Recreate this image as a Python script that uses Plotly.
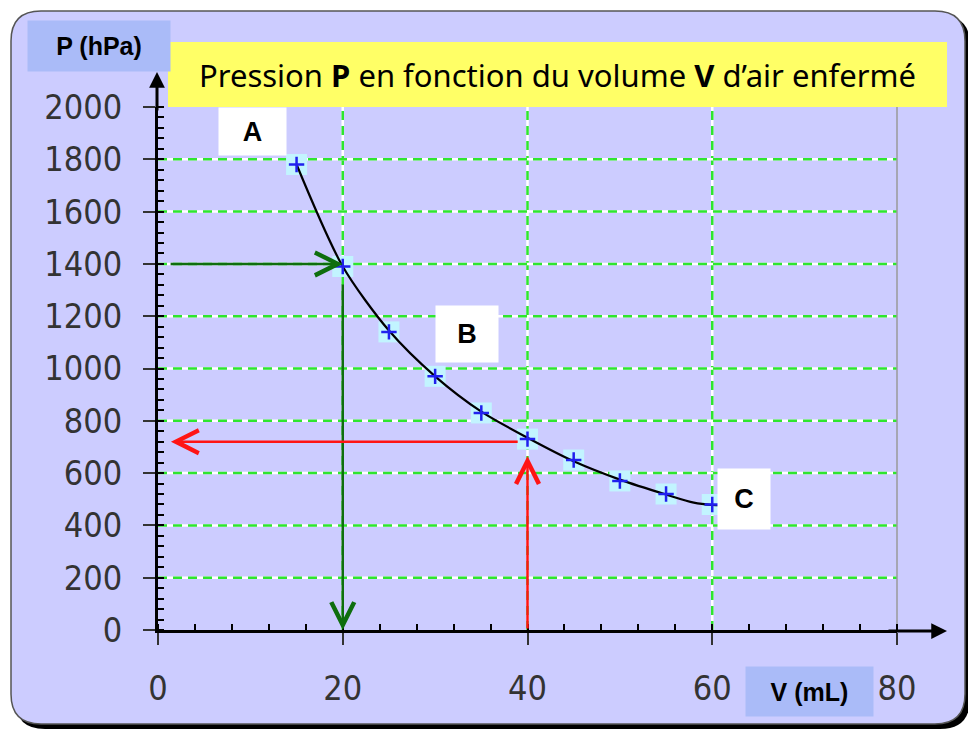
import plotly.graph_objects as go

# ---------------- data ----------------
V = [15, 20, 25, 30, 35, 40, 45, 50, 55, 60]
P = [1780, 1390, 1140, 970, 830, 730, 650, 570, 520, 480]
curve_V = [15, 20, 25, 30, 35, 40, 45, 50, 55, 58, 60, 61]
curve_P = [1780, 1390, 1145, 970, 835, 735, 645, 575, 518, 487, 478, 477]
x_ticks = [0, 20, 40, 60, 80]
y_ticks = [0, 200, 400, 600, 800, 1000, 1200, 1400, 1600, 1800, 2000]
x_grid = [20, 40, 60]
y_grid = [200, 400, 600, 800, 1000, 1200, 1400, 1600, 1800]
point_labels = ["A", "B", "C"]
label_V = [10.2, 33.4, 63.4]
label_P = [1906, 1132, 501]
green_V, green_P, green_start_V, green_stop_P = 20, 1400, 1.2, 1327
red_V, red_P, red_end_V, red_stop_P = 40, 720, 1.4, 665
title_text = "Pression <b>P</b> en fonction du volume <b>V</b> d’air enfermé"
y_title = "<b>P (hPa)</b>"
x_title = "<b>V (mL)</b>"

# ---------------- geometry helpers (page pixel -> paper) ----------------
OFF = 8                       # default body margin of the html page
W, H = 976 - OFF, 729 - OFF   # figure size
L, R, T, B = 158, 897, 107, 630   # plot area in page pixels


def px(x):
    return (x - L) / (R - L)


def py(y):
    return (B - y) / (B - T)


def rrect(x0, y0, x1, y1, r):
    pts = [
        ("M", [(x0 + r, y0)]), ("L", [(x1 - r, y0)]), ("Q", [(x1, y0), (x1, y0 + r)]),
        ("L", [(x1, y1 - r)]), ("Q", [(x1, y1), (x1 - r, y1)]),
        ("L", [(x0 + r, y1)]), ("Q", [(x0, y1), (x0, y1 - r)]),
        ("L", [(x0, y0 + r)]), ("Q", [(x0, y0), (x0 + r, y0)]),
    ]
    s = ""
    for cmd, pp in pts:
        s += cmd + " " + " ".join(f"{px(a):.5f},{py(b):.5f}" for a, b in pp) + " "
    return s + "Z"


GRID_GREEN = "#2EE62E"
DARK_GREEN = "#0E6E0E"
RED = "#FF1414"
TICK_FONT = dict(family="DejaVu Sans Condensed, Liberation Sans Narrow, DejaVu Sans", size=34, color="#333333")
LABEL_FONT = dict(family="Liberation Sans, Arial", size=25, color="black")

fig = go.Figure()

# markers background squares
fig.add_trace(go.Scatter(x=V, y=P, mode="markers",
                         marker=dict(symbol="square", size=21, color="#C2F4FF"),
                         hoverinfo="skip", showlegend=False))
# smooth curve
fig.add_trace(go.Scatter(x=curve_V, y=curve_P, mode="lines",
                         line=dict(color="black", width=2.2, shape="spline", smoothing=0.8),
                         hoverinfo="skip", showlegend=False))
# blue crosses
fig.add_trace(go.Scatter(x=V, y=P, mode="markers",
                         marker=dict(symbol="cross-thin", size=11,
                                     line=dict(color="#2020EE", width=2.5)),
                         showlegend=False))

shapes = []
# black shadow and lavender panel
shapes.append(dict(type="path", xref="paper", yref="paper", path=rrect(15, 15, 970, 729, 30),
                   fillcolor="black", line=dict(width=0), layer="below"))
shapes.append(dict(type="path", xref="paper", yref="paper", path=rrect(11, 11, 965, 724, 30),
                   fillcolor="#CCCCFF", line=dict(color="#555555", width=1.5), layer="below"))
# grid: white base + green dashes
for v in x_grid:
    shapes.append(dict(type="line", xref="x", yref="paper", x0=v, x1=v, y0=0, y1=1,
                       line=dict(color="white", width=2.5), layer="between"))
    shapes.append(dict(type="line", xref="x", yref="paper", x0=v, x1=v, y0=0, y1=1,
                       line=dict(color=GRID_GREEN, width=2.5, dash="9px,6px"), layer="between"))
for p in y_grid:
    shapes.append(dict(type="line", xref="paper", yref="y", x0=0, x1=1, y0=p, y1=p,
                       line=dict(color="white", width=2.5), layer="between"))
    shapes.append(dict(type="line", xref="paper", yref="y", x0=0, x1=1, y0=p, y1=p,
                       line=dict(color=GRID_GREEN, width=2.5, dash="9px,6px"), layer="between"))
# right edge of plot
shapes.append(dict(type="line", xref="paper", yref="paper", x0=1, x1=1, y0=0, y1=1,
                   line=dict(color="#9A9A9A", width=1.5), layer="between"))

annotations = []
# title box
annotations.append(dict(xref="paper", yref="paper", x=px(557.5), y=py(74.5), text=title_text,
                        xanchor="center", yanchor="middle",
                        showarrow=False, width=779, height=65, bgcolor="#FFFF66",
                        borderpad=0, borderwidth=0,
                        font=dict(family="Noto Sans, DejaVu Sans", size=31, color="black")))
# axis title boxes
annotations.append(dict(xref="paper", yref="paper", x=px(99), y=py(46), text=y_title,
                        xanchor="center", yanchor="middle",
                        showarrow=False, width=142, height=50, bgcolor="#AABBF8",
                        borderpad=0, font=LABEL_FONT))
annotations.append(dict(xref="paper", yref="paper", x=px(809.5), y=py(691.5), text=x_title,
                        xanchor="center", yanchor="middle",
                        showarrow=False, width=127, height=49, bgcolor="#AABBF8",
                        borderpad=0, font=LABEL_FONT))
# point labels
box_sizes = [(67, 47), (62, 56), (52, 60)]
for lab, lv, lp, (bw, bh) in zip(point_labels, label_V, label_P, box_sizes):
    annotations.append(dict(xref="x", yref="y", x=lv, y=lp, text=f"<b>{lab}</b>",
                            xanchor="center", yanchor="middle",
                            showarrow=False, width=bw, height=bh, bgcolor="white",
                            borderpad=0,
                            font=dict(family="Liberation Sans, Arial", size=27, color="black")))
# axis arrows
annotations.append(dict(xref="paper", yref="paper", x=px(157), y=py(72), ax=0, ay=40,
                        text="", showarrow=True, arrowhead=2, arrowsize=1.05, arrowwidth=3,
                        arrowcolor="black", standoff=0))
annotations.append(dict(xref="paper", yref="paper", x=px(947), y=py(631), ax=-60, ay=0,
                        text="", showarrow=True, arrowhead=2, arrowsize=1.05, arrowwidth=3,
                        arrowcolor="black", standoff=0))
# reading arrows (green)
annotations.append(dict(xref="x", yref="y", axref="x", ayref="y", x=green_V, y=green_P,
                        ax=green_start_V, ay=green_P, text="", showarrow=True, arrowhead=5,
                        arrowsize=1.8, arrowwidth=2.5, arrowcolor=DARK_GREEN, standoff=0))
annotations.append(dict(xref="x", yref="y", axref="x", ayref="y", x=green_V, y=0,
                        ax=green_V, ay=green_stop_P, text="", showarrow=True, arrowhead=5,
                        arrowsize=1.8, arrowwidth=2.5, arrowcolor=DARK_GREEN, standoff=0))
# reading arrows (red)
annotations.append(dict(xref="x", yref="y", axref="x", ayref="y", x=red_end_V, y=red_P,
                        ax=red_V - 0.9, ay=red_P, text="", showarrow=True, arrowhead=5,
                        arrowsize=1.8, arrowwidth=2.5, arrowcolor=RED, standoff=0))
annotations.append(dict(xref="x", yref="y", axref="x", ayref="y", x=red_V, y=red_stop_P,
                        ax=red_V, ay=0, text="", showarrow=True, arrowhead=5,
                        arrowsize=1.8, arrowwidth=2.5, arrowcolor=RED, standoff=0))

fig.update_layout(
    width=W, height=H,
    margin=dict(l=L - OFF, r=W - (R - OFF), t=T - OFF, b=H - (B - OFF), pad=0),
    paper_bgcolor="white",
    plot_bgcolor="#FFFFCC",
    showlegend=False,
    shapes=shapes,
    annotations=annotations,
    xaxis=dict(range=[0, 80], tickvals=x_ticks, ticktext=[str(t) for t in x_ticks],
               showgrid=False, zeroline=False, showline=True, linecolor="black", linewidth=3,
               ticks="outside", ticklen=12, tickwidth=2, tickcolor="#333333",
               tickfont=TICK_FONT, ticklabelstandoff=14,
               minor=dict(dtick=4, tick0=0, ticks="inside", ticklen=6, tickwidth=2,
                          tickcolor="black", showgrid=False),
               fixedrange=True),
    yaxis=dict(range=[0, 2000], tickvals=y_ticks, ticktext=[str(t) for t in y_ticks],
               showgrid=False, zeroline=False, showline=True, linecolor="black", linewidth=3,
               ticks="outside", ticklen=12, tickwidth=2, tickcolor="#333333",
               tickfont=TICK_FONT, ticklabelstandoff=14,
               minor=dict(dtick=40, tick0=0, ticks="inside", ticklen=6, tickwidth=2,
                          tickcolor="black", showgrid=False),
               fixedrange=True),
)

fig.write_html("out.html")
